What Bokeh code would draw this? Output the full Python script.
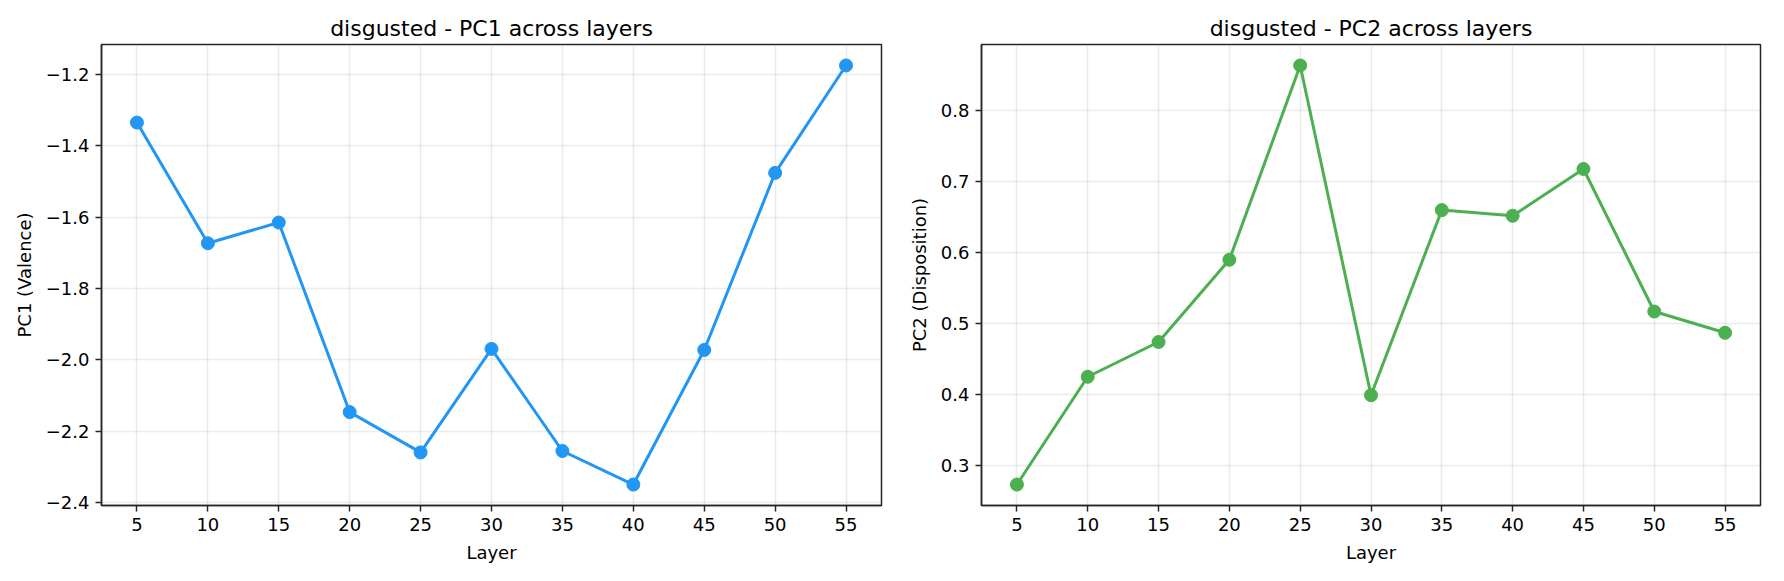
from bokeh.plotting import figure
from bokeh.layouts import row
from bokeh.models import FixedTicker, CustomJSTickFormatter
from bokeh.embed import file_html
from bokeh.resources import INLINE

layers = [5, 10, 15, 20, 25, 30, 35, 40, 45, 50, 55]
pc1 = [-1.335, -1.673, -1.615, -2.146, -2.259, -1.969, -2.255, -2.349, -1.972, -1.476, -1.175]
pc2 = [0.273, 0.425, 0.474, 0.590, 0.864, 0.399, 0.660, 0.652, 0.718, 0.517, 0.487]
pc1_ticks = [-2.4, -2.2, -2.0, -1.8, -1.6, -1.4, -1.2]
pc2_ticks = [0.3, 0.4, 0.5, 0.6, 0.7, 0.8]

FONT = "DejaVu Sans"


def panel(title, ylabel, vals, color, yticks, width, left, right):
    pad = (max(vals) - min(vals)) * 0.05
    p = figure(width=width, height=565, title=title,
               x_range=(2.5, 57.5), y_range=(min(vals) - pad, max(vals) + pad),
               output_backend="svg", toolbar_location=None,
               min_border_left=left, min_border_right=right,
               min_border_top=44, min_border_bottom=10)
    p.title.align = "center"
    p.title.text_font = FONT
    p.title.text_font_size = "22px"
    p.title.text_font_style = "normal"
    p.title.text_color = "black"
    p.title.offset = 0
    p.title.standoff = 8

    p.line(layers, vals, color=color, line_width=3)
    p.scatter(layers, vals, size=13, color=color)

    p.xaxis.axis_label = "Layer"
    p.yaxis.axis_label = ylabel
    p.xaxis.ticker = FixedTicker(ticks=layers)
    p.yaxis.ticker = FixedTicker(ticks=yticks)
    p.yaxis.formatter = CustomJSTickFormatter(
        code="return tick.toFixed(1).replace('-', '\u2212')")
    for ax in (p.xaxis, p.yaxis):
        ax.axis_label_text_font = FONT
        ax.axis_label_text_font_size = "18px"
        ax.axis_label_text_font_style = "normal"
        ax.axis_label_text_color = "black"
        ax.major_label_text_font = FONT
        ax.major_label_text_font_size = "18px"
        ax.major_label_text_color = "black"
        ax.axis_line_color = "#262626"
        ax.axis_line_width = 1.5
        ax.major_tick_line_color = "#262626"
        ax.major_tick_line_width = 1.5
        ax.major_tick_out = 6
        ax.major_tick_in = 0
        ax.minor_tick_line_color = None
        ax.major_label_standoff = 6
        ax.axis_label_standoff = 8
    p.grid.grid_line_color = "#b0b0b0"
    p.grid.grid_line_alpha = 0.25
    p.grid.grid_line_width = 1.5
    p.outline_line_color = "#262626"
    p.outline_line_width = 1.5
    p.outline_line_alpha = 1
    return p


left = panel("disgusted - PC1 across layers", "PC1 (Valence)", pc1, "#2196F3",
             pc1_ticks, 900, 101, 19)
right = panel("disgusted - PC2 across layers", "PC2 (Disposition)", pc2, "#4CAF50",
              pc2_ticks, 868, 81, 8)

p = row(left, right)
open("out.html", "w").write(file_html(p, INLINE))
